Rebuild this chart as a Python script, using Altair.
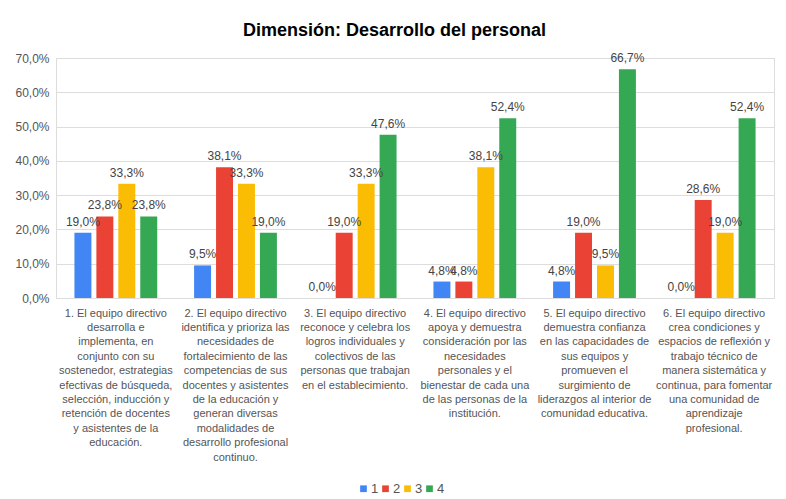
import altair as alt
import pandas as pd

categories = [
    ["1. El equipo directivo", "desarrolla e", "implementa, en", "conjunto con su",
     "sostenedor, estrategias", "efectivas de búsqueda,", "selección, inducción y",
     "retención de docentes", "y asistentes de la", "educación."],
    ["2. El equipo directivo", "identifica y prioriza las", "necesidades de",
     "fortalecimiento de las", "competencias de sus", "docentes y asistentes",
     "de la educación y", "generan diversas", "modalidades de",
     "desarrollo profesional", "continuo."],
    ["3. El equipo directivo", "reconoce y celebra los", "logros individuales y",
     "colectivos de las", "personas que trabajan", "en el establecimiento."],
    ["4. El equipo directivo", "apoya y demuestra", "consideración por las",
     "necesidades", "personales y el", "bienestar de cada una",
     "de las personas de la", "institución."],
    ["5. El equipo directivo", "demuestra confianza", "en las capacidades de",
     "sus equipos y", "promueven el", "surgimiento de",
     "liderazgos al interior de", "comunidad educativa."],
    ["6. El equipo directivo", "crea condiciones y", "espacios de reflexión y",
     "trabajo técnico de", "manera sistemática y", "continua, para fomentar",
     "una comunidad de", "aprendizaje", "profesional."],
]
series = ["1", "2", "3", "4"]
values_1 = [19.0, 9.5, 0.0, 4.8, 4.8, 0.0]
values_2 = [23.8, 38.1, 19.0, 4.8, 19.0, 28.6]
values_3 = [33.3, 33.3, 33.3, 38.1, 9.5, 19.0]
values_4 = [23.8, 19.0, 47.6, 52.4, 66.7, 52.4]
colors = ["#4285F4", "#EA4335", "#FBBC04", "#34A853"]
y_ticks = [0, 0.1, 0.2, 0.3, 0.4, 0.5, 0.6, 0.7]

rows = []
for s, vals in zip(series, [values_1, values_2, values_3, values_4]):
    for cat, v in zip(categories, vals):
        rows.append({"cat": "|".join(cat), "serie": s, "value": v / 100.0})
df = pd.DataFrame(rows)
cat_order = ["|".join(c) for c in categories]

FONT = "Liberation Sans"

y_enc = alt.Y("value:Q", title=None,
              scale=alt.Scale(domain=[0, 0.7], nice=False),
              axis=alt.Axis(values=y_ticks,
                            labelExpr="replace(format(datum.value, '.1%'), '.', ',')",
                            labelFontSize=12, labelColor="#555555", labelFont=FONT,
                            labelPadding=7, ticks=False, domain=False,
                            labelOverlap=False,
                            gridColor="#dddddd", gridWidth=1))

base = alt.Chart(df).encode(
    x=alt.X("cat:N", sort=cat_order, title=None,
            scale=alt.Scale(paddingInner=0, paddingOuter=0),
            axis=alt.Axis(labelExpr="split(datum.label, '|')", labelAngle=0,
                          labelAlign="center", labelBaseline="top",
                          labelFontSize=11, labelLineHeight=14.4,
                          labelColor="#555555", labelFont=FONT,
                          labelPadding=9, ticks=False, domain=False,
                          grid=False, labelLimit=200)),
    xOffset=alt.XOffset("serie:N", sort=series,
                        scale=alt.Scale(paddingInner=0.227, paddingOuter=0.84)),
    y=y_enc,
)

bars = base.mark_bar().encode(
    color=alt.Color("serie:N", sort=series,
                    scale=alt.Scale(domain=series, range=colors),
                    legend=alt.Legend(title=None, orient="none", direction="horizontal",
                                      legendX=301, legendY=424,
                                      symbolType="square", symbolSize=45,
                                      symbolStrokeWidth=0,
                                      labelFontSize=13, labelColor="#555555",
                                      labelFont=FONT, columnPadding=0,
                                      labelOffset=1)),
)

labels = base.mark_text(baseline="bottom", dy=-4, fontSize=12, color="#444444",
                        font=FONT).transform_calculate(
    lbl="replace(format(datum.value, '.1%'), '.', ',')"
).encode(
    text=alt.Text("lbl:N"),
)

chart = alt.layer(bars, labels).properties(
    width=718,
    height=240,
    title=alt.Title("Dimensión: Desarrollo del personal", fontSize=18,
                    font=FONT, fontWeight="bold", color="#000000",
                    anchor="middle", frame="bounds", offset=12),
    padding={"left": 6, "top": 14, "right": 3, "bottom": 5},
).configure_view(strokeWidth=0, strokeOpacity=0).configure_axisX(
    grid=False
).configure(background="#ffffff")

chart.save("out.html", embed_options={"renderer": "svg", "actions": False})
